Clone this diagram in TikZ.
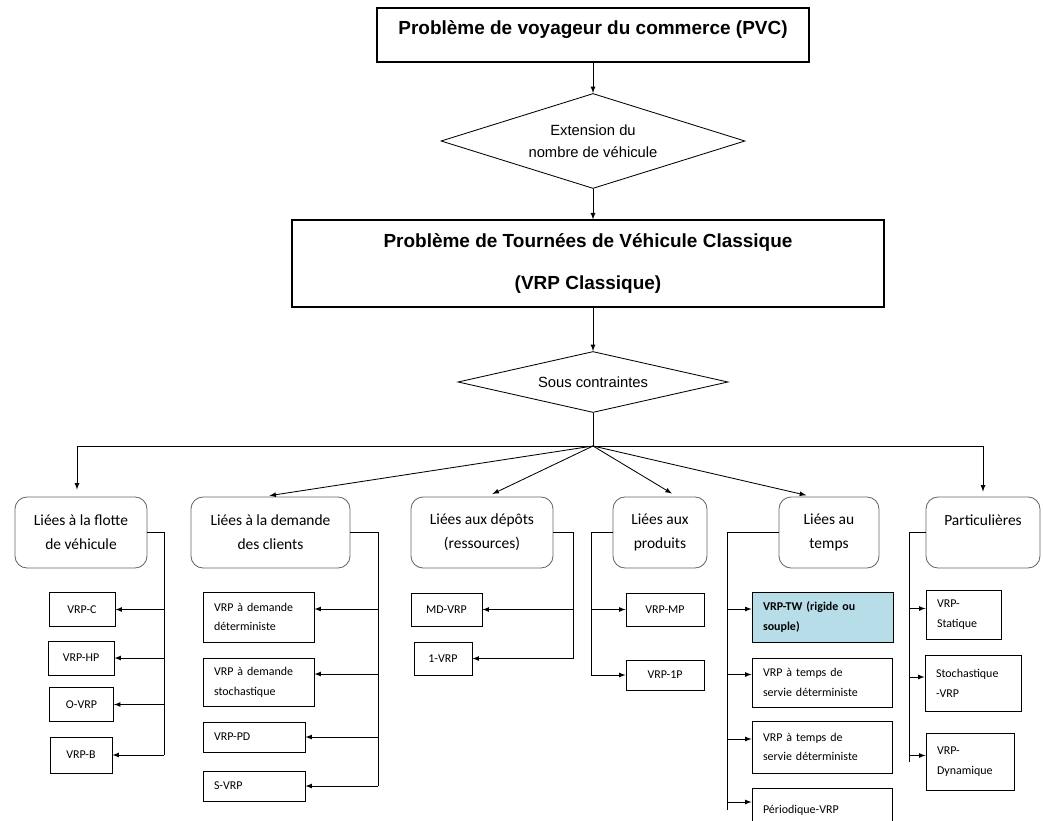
\documentclass[tikz,border=0pt]{standalone}
\usepackage{fontspec}
\setmainfont{Liberation Sans}
\newfontfamily\calfont{Carlito}
\usetikzlibrary{shapes.geometric}
\newlength\pxu
\setlength\pxu{0.025cm}
\definecolor{aqua}{HTML}{B7DEE8}
\tikzset{
	titre/.style={draw, line width=0.9pt, font=\bfseries\fontsize{13.5}{30.5}\selectfont, align=center, inner sep=0pt},
	losange/.style={diamond, draw, line width=0.6pt, inner sep=0pt, font=\fontsize{10.5}{16}\selectfont, align=center},
	famille/.style={draw=black!60, rounded corners=12\pxu, line width=0.6pt, font=\calfont\fontsize{11}{17}\selectfont, align=center, inner sep=0pt},
	feuille/.style={draw, line width=0.7pt, font=\calfont\fontsize{8.5}{14}\selectfont, align=left, inner xsep=11\pxu, inner ysep=0pt},
	hoch/.style={transform canvas={yshift=#1\pxu}},
}
\begin{document}
\begin{tikzpicture}[x=0.025cm, y=-0.025cm, >=latex, line width=0.6pt]
		\useasboundingbox (0,0) rectangle (1043,820);
		%Probleme de base
		\node[titre, text height=10pt, text depth=10pt, minimum width=432\pxu, minimum height=54\pxu] (pvc) at (593,35) {Problème de voyageur du commerce (PVC)};
		\node[losange, shape aspect=3.3, minimum width=304\pxu, minimum height=95\pxu] (ext) at (593,141) {Extension du\\nombre de véhicule};
		\node[titre, line width=0.8pt, minimum width=592\pxu, minimum height=87\pxu] (vrp) at (588,263.5) {Problème de Tournées de Véhicule Classique\\(VRP Classique)};
		\node[losange, shape aspect=4.4, minimum width=270\pxu, minimum height=61\pxu] (sous) at (593,382) {Sous contraintes};
		\draw[->] (pvc.south) -- (ext.north);
		\draw[->] (ext.south) -- (ext.south |- vrp.north);
		\draw[->] (sous.north |- vrp.south) -- (sous.north);
		%Familles de contraintes
		\node[famille, minimum width=132\pxu, minimum height=71\pxu] (flotte) at (81,532.5) {Liées à la flotte\\de véhicule};
		\node[famille, minimum width=159\pxu, minimum height=71\pxu] (demande) at (270.5,532.5) {Liées à la demande\\des clients};
		\node[famille, minimum width=142\pxu, minimum height=71\pxu] (depots) at (482,532.5) {Liées aux dépôts\\(ressources)};
		\node[famille, minimum width=94\pxu, minimum height=71\pxu] (produits) at (660,532.5) {Liées aux\\produits};
		\node[famille, minimum width=100\pxu, minimum height=71\pxu] (temps) at (829,532.5) {Liées au\\temps};
		\node[famille, minimum width=114\pxu, minimum height=71\pxu] (part) at (983,532.5) {Particulières\\~};
		\coordinate (hub) at (593,446);
		\draw (sous.south) -- (hub);
		\draw[->, shorten >=7\pxu] (hub) -| ([xshift=-4\pxu]flotte.north);
		\draw[->, shorten >=5\pxu] (hub) -| (part.north);
		\draw[->, shorten >=6\pxu] (hub) -- ([xshift=-7\pxu]demande.north);
		\draw[->, shorten >=6\pxu] (hub) -- ([xshift=5\pxu]depots.north);
		\draw[->, shorten >=6\pxu] (hub) -- ([xshift=17\pxu]produits.north);
		\draw[->, shorten >=6\pxu] (hub) -- ([xshift=-17\pxu]temps.north);
		%Flotte
		\node[feuille, minimum width=66\pxu, minimum height=34\pxu] (vrpc) at (82,609.5) {VRP-C};
		\node[feuille, minimum width=66\pxu, minimum height=34\pxu] (vrphp) at (81,658) {VRP-HP};
		\node[feuille, minimum width=64\pxu, minimum height=34\pxu] (ovrp) at (81.5,704.5) {O-VRP};
		\node[feuille, minimum width=62\pxu, minimum height=36\pxu] (vrpb) at (81,755) {VRP-B};
		\coordinate (b1) at (164,0);
		\draw (flotte.east) -| (b1 |- vrpb.east);
		\foreach \n in {vrpc,vrphp,ovrp,vrpb}
			\draw[->] (b1 |- \n.east) -- (\n.east);
		%Demande
		\node[feuille, text width=89\pxu, minimum height=50\pxu] (dem1) at (258.5,617) {VRP à demande\\déterministe};
		\node[feuille, text width=89\pxu, minimum height=48\pxu] (dem2) at (258.5,682) {VRP à demande\\stochastique};
		\node[feuille, text width=80\pxu, minimum height=30\pxu] (vrppd) at (254,737) {VRP-PD};
		\node[feuille, text width=80\pxu, minimum height=30\pxu] (svrp) at (254,786) {S-VRP};
		\coordinate (b2) at (378,0);
		\draw (demande.east) -| (b2 |- svrp.east);
		\foreach \n in {dem1,dem2}
			\draw[->, hoch=8] (b2 |- \n.east) -- (\n.east);
		\foreach \n in {vrppd,svrp}
			\draw[->] (b2 |- \n.east) -- (\n.east);
		%Depots
		\node[feuille, minimum width=71\pxu, minimum height=33\pxu] (mdvrp) at (446.5,609.5) {MD-VRP};
		\node[feuille, minimum width=58\pxu, minimum height=33\pxu] (onevrp) at (443,658.5) {1-VRP};
		\coordinate (b3) at (573,0);
		\draw (depots.east) -| (b3 |- onevrp.east);
		\foreach \n in {mdvrp,onevrp}
			\draw[->] (b3 |- \n.east) -- (\n.east);
		%Produits
		\node[feuille, minimum width=78\pxu, minimum height=33\pxu] (vrpmp) at (665,609.5) {VRP-MP};
		\node[feuille, minimum width=78\pxu, minimum height=30\pxu] (vrpunp) at (665,675) {VRP-1P};
		\coordinate (b4) at (591,0);
		\draw (produits.west) -| (b4 |- vrpunp.west);
		\foreach \n in {vrpmp,vrpunp}
			\draw[->] (b4 |- \n.west) -- (\n.west);
		%Temps
		\node[feuille, fill=aqua, font=\calfont\bfseries\fontsize{8.5}{14}\selectfont, text width=119\pxu, minimum height=50\pxu] (tw) at (822.5,617) {VRP-TW (rigide ou\\souple)};
		\node[feuille, text width=118\pxu, minimum height=49\pxu] (ts1) at (822,682.5) {VRP à temps de\\servie déterministe};
		\node[feuille, text width=118\pxu, minimum height=52\pxu] (ts2) at (822,747) {VRP à temps de\\servie déterministe};
		\node[feuille, text width=118\pxu, minimum height=44\pxu] (perio) at (822,810) {Périodique-VRP};
		\coordinate (b5) at (727,0);
		\draw (temps.west) -| (b5 |- perio.west);
		\foreach \n in {tw,ts1,ts2,perio}
			\draw[->, hoch=8] (b5 |- \n.west) -- (\n.west);
		%Particulieres
		\node[feuille, text width=53\pxu, minimum height=49\pxu] (stat) at (963.5,614.5) {VRP-\\Statique};
		\node[feuille, text width=74\pxu, minimum height=56\pxu] (stoch) at (973,683) {Stochastique\\-VRP};
		\node[feuille, text width=66\pxu, minimum height=57\pxu] (dyn) at (970,761.5) {VRP-\\Dynamique};
		\coordinate (b6) at (909,0);
		\draw (part.west) -| (b6 |- dyn.west);
		\foreach \n in {stat,stoch,dyn}
			\draw[->, hoch=6] (b6 |- \n.west) -- (\n.west);
	\end{tikzpicture}
\end{document}
